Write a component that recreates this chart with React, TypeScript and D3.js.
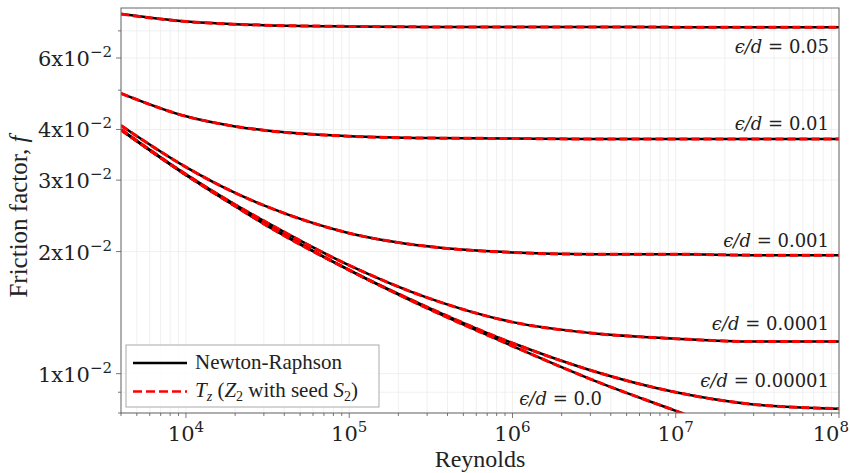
import { useEffect, useRef } from 'react';
import * as d3 from 'd3';

const reynolds = [4e3, 1e4, 2e4, 3e4, 1e5, 3e5, 1e6, 3e6, 1e7, 3e7, 1e8];

// friction factor for each relative roughness
const f005 = [0.077, 0.0738, 0.0727, 0.0723, 0.0718, 0.0716, 0.0716, 0.0716, 0.0715, 0.0715, 0.0715];
const f001 = [0.0491, 0.0431, 0.0407, 0.0398, 0.0385, 0.0381, 0.038, 0.0379, 0.0379, 0.0379, 0.0379];
const f0001 = [0.0409, 0.0323, 0.0279, 0.026, 0.0222, 0.0206, 0.0199, 0.0197, 0.0197, 0.0196, 0.0196];
const f00001 = [0.04, 0.031, 0.0261, 0.0238, 0.0185, 0.0154, 0.0134, 0.0126, 0.0122, 0.012, 0.012];
const f000001 = [0.0399, 0.0309, 0.0259, 0.0235, 0.018, 0.0146, 0.0119, 0.0102, 0.009, 0.0084, 0.0082];
const fSmooth = [0.0399, 0.0309, 0.0259, 0.0234, 0.018, 0.0145, 0.0117, 0.0097, 0.0081, 0.0069];

const curveLabels = ['0.05', '0.01', '0.001', '0.0001', '0.00001', '0.0'];

const xTicks = [1e4, 1e5, 1e6, 1e7, 1e8];
const xTickExp = ['4', '5', '6', '7', '8'];
const yTicksLabelled = [0.01, 0.02, 0.03, 0.04, 0.06];
const yTickMant = ['1', '2', '3', '4', '6'];
const yTicksMinor = [0.008, 0.009, 0.05, 0.07];

function App() {
  const svgRef = useRef<SVGSVGElement>(null);

  useEffect(() => {
    const W = 850;
    const H = 473;
    const margin = { top: 8, right: 11, bottom: 60, left: 121 };
    const width = W - margin.left - margin.right;
    const height = H - margin.top - margin.bottom;
    const font = '"Liberation Serif", "Times New Roman", serif';
    const mathFont = '"DejaVu Serif", serif';

    d3.select(svgRef.current).selectAll('*').remove();

    const root = d3.select(svgRef.current).attr('width', W).attr('height', H);
    root.append('rect').attr('width', W).attr('height', H).attr('fill', '#fff');

    const svg = root.append('g').attr('transform', `translate(${margin.left},${margin.top})`);

    const x = d3.scaleLog().domain([4000, 1e8]).range([0, width]);
    const y = d3.scaleLog().domain([0.008, 0.0797]).range([height, 0]);

    // grid
    const xMinor: number[] = [];
    for (let e = 3; e < 8; e++) {
      for (let m = 1; m < 10; m++) {
        const v = m * Math.pow(10, e);
        if (v >= 4000 && v <= 1e8) xMinor.push(v);
      }
    }
    xMinor.push(1e8);
    const grid = svg.append('g');
    grid
      .selectAll('line.gx')
      .data(xMinor)
      .enter()
      .append('line')
      .attr('x1', (d) => x(d))
      .attr('x2', (d) => x(d))
      .attr('y1', 0)
      .attr('y2', height)
      .attr('stroke', '#ececec')
      .attr('stroke-width', 0.8);
    grid
      .selectAll('line.gy')
      .data([...yTicksLabelled, ...yTicksMinor])
      .enter()
      .append('line')
      .attr('x1', 0)
      .attr('x2', width)
      .attr('y1', (d) => y(d))
      .attr('y2', (d) => y(d))
      .attr('stroke', '#ececec')
      .attr('stroke-width', 0.8);

    // curves
    svg
      .append('clipPath')
      .attr('id', 'plot-clip')
      .append('rect')
      .attr('width', width)
      .attr('height', height);

    const series = [f005, f001, f0001, f00001, f000001, fSmooth];
    const line = d3
      .line<[number, number]>()
      .x((d) => x(d[0]))
      .y((d) => y(d[1]))
      .curve(d3.curveMonotoneX);

    const curves = svg.append('g').attr('clip-path', 'url(#plot-clip)');
    series.forEach((vals) => {
      const pts = vals.map((v, i) => [reynolds[i], v] as [number, number]);
      curves
        .append('path')
        .attr('d', line(pts))
        .attr('fill', 'none')
        .attr('stroke', '#000')
        .attr('stroke-width', 2.5);
      curves
        .append('path')
        .attr('d', line(pts))
        .attr('fill', 'none')
        .attr('stroke', '#ff0000')
        .attr('stroke-width', 3)
        .attr('stroke-dasharray', '8,4');
    });

    // frame
    svg
      .append('rect')
      .attr('width', width)
      .attr('height', height)
      .attr('fill', 'none')
      .attr('stroke', '#666')
      .attr('stroke-width', 1);

    // x ticks
    const xAxis = svg.append('g').attr('transform', `translate(0,${height})`);
    xAxis
      .selectAll('line.minor')
      .data(xMinor)
      .enter()
      .append('line')
      .attr('x1', (d) => x(d))
      .attr('x2', (d) => x(d))
      .attr('y1', 0)
      .attr('y2', (d) => (xTicks.includes(d) ? 5 : 3))
      .attr('stroke', '#555')
      .attr('stroke-width', 0.8);
    // last label would run past the page edge, so pin its right end to it
    const xl = xAxis
      .selectAll('text')
      .data(xTicks)
      .enter()
      .append('text')
      .attr('x', (d, i) => (i === xTicks.length - 1 ? W - margin.left - 1 : x(d)))
      .attr('y', 28)
      .attr('text-anchor', (d, i) => (i === xTicks.length - 1 ? 'end' : 'middle'))
      .style('font-family', mathFont)
      .style('font-size', '21px')
      .style('fill', '#222');
    xl.append('tspan').text('10');
    xl.append('tspan')
      .attr('dy', -9)
      .style('font-size', '15px')
      .text((d, i) => xTickExp[i]);

    // y ticks
    const yAxis = svg.append('g');
    yAxis
      .selectAll('line')
      .data([...yTicksLabelled, ...yTicksMinor])
      .enter()
      .append('line')
      .attr('x1', 0)
      .attr('x2', (d) => (yTicksLabelled.includes(d) ? -5 : -3))
      .attr('y1', (d) => y(d))
      .attr('y2', (d) => y(d))
      .attr('stroke', '#555')
      .attr('stroke-width', 0.8);
    const yl = yAxis
      .selectAll('text')
      .data(yTicksLabelled)
      .enter()
      .append('text')
      .attr('x', -9)
      .attr('y', (d) => y(d) + 8)
      .attr('text-anchor', 'end')
      .style('font-family', mathFont)
      .style('font-size', '21px')
      .style('fill', '#222');
    yl.append('tspan').text((d, i) => `${yTickMant[i]}x10`);
    yl.append('tspan').attr('dy', -9).style('font-size', '15px').text('\u22122');

    // axis labels
    svg
      .append('text')
      .attr('x', width / 2)
      .attr('y', height + 54)
      .attr('text-anchor', 'middle')
      .style('font-family', font)
      .style('font-size', '24px')
      .style('fill', '#222')
      .text('Reynolds');

    const yLab = svg
      .append('text')
      .attr('transform', `translate(${-margin.left + 27},${height / 2 + 6}) rotate(-90)`)
      .attr('text-anchor', 'middle')
      .style('font-family', font)
      .style('font-size', '25px')
      .style('fill', '#222');
    yLab.append('tspan').text('Friction factor, ');
    yLab.append('tspan').style('font-style', 'italic').text('f');

    // curve annotations
    const labelPos: [number, number, string][] = [
      [1e8, 0.0715, 'end'],
      [1e8, 0.0379, 'end'],
      [1e8, 0.0196, 'end'],
      [1e8, 0.012, 'end'],
      [1e8, 0.0082, 'end'],
      [1.1e6, 0.0082, 'start'],
    ];
    const labelDy = [26, -9, -8, -11.5, -21.5, -4];
    curveLabels.forEach((lab, i) => {
      const [rx, fy, anchor] = labelPos[i];
      const t = svg
        .append('text')
        .attr('x', anchor === 'end' ? x(rx) - 10 : x(rx))
        .attr('y', y(fy) + labelDy[i])
        .attr('text-anchor', anchor)
        .style('font-family', mathFont)
        .style('font-size', '18px')
        .style('fill', '#222');
      t.append('tspan').style('font-style', 'italic').text('\u03f5/d');
      t.append('tspan').text(` = ${lab}`);
    });

    // legend
    const lg = svg.append('g').attr('transform', `translate(${126 - margin.left},${345 - margin.top})`);
    lg.append('rect')
      .attr('width', 253)
      .attr('height', 62)
      .attr('fill', '#fff')
      .attr('fill-opacity', 0.85)
      .attr('stroke', '#aaa')
      .attr('stroke-width', 1);
    lg.append('line')
      .attr('x1', 7)
      .attr('x2', 61)
      .attr('y1', 18)
      .attr('y2', 18)
      .attr('stroke', '#000')
      .attr('stroke-width', 2.5);
    lg.append('line')
      .attr('x1', 7)
      .attr('x2', 61)
      .attr('y1', 46.5)
      .attr('y2', 46.5)
      .attr('stroke', '#ff0000')
      .attr('stroke-width', 2.5)
      .attr('stroke-dasharray', '9,4');
    lg.append('text')
      .attr('x', 69)
      .attr('y', 24)
      .style('font-family', font)
      .style('font-size', '21px')
      .style('fill', '#222')
      .text('Newton-Raphson');
    const l2 = lg
      .append('text')
      .attr('x', 69)
      .attr('y', 52)
      .style('font-family', font)
      .style('font-size', '21px')
      .style('fill', '#222');
    l2.append('tspan').style('font-style', 'italic').text('T');
    l2.append('tspan').style('font-style', 'italic').style('font-size', '14px').attr('dy', 4).text('z');
    l2.append('tspan').attr('dy', -4).text(' (');
    l2.append('tspan').style('font-style', 'italic').text('Z');
    l2.append('tspan').style('font-size', '14px').attr('dy', 4).text('2');
    l2.append('tspan').attr('dy', -4).text(' with seed ');
    l2.append('tspan').style('font-style', 'italic').text('S');
    l2.append('tspan').style('font-size', '14px').attr('dy', 4).text('2');
    l2.append('tspan').attr('dy', -4).text(')');
  }, []);

  return <svg ref={svgRef} style={{ position: 'absolute', left: 0, top: 0 }}></svg>;
}

export default App;
